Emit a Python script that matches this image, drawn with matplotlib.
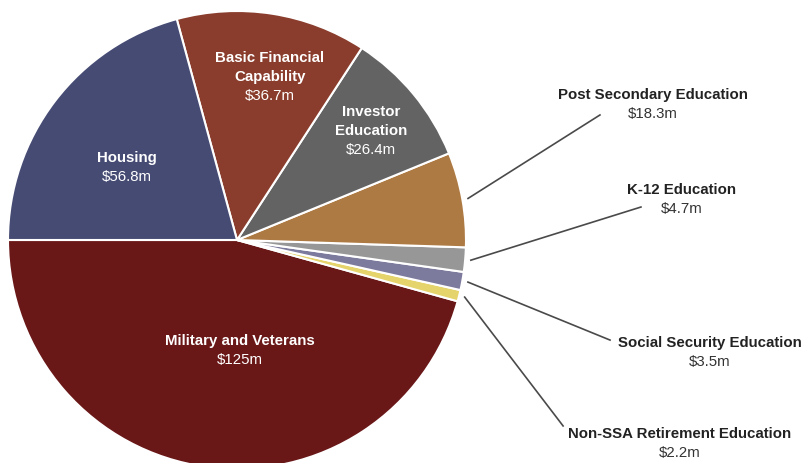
import numpy as np
import matplotlib.pyplot as plt

plt.rcParams['font.family'] = ['Liberation Sans', 'DejaVu Sans']

# funding by program area, in $ millions (drawn counter-clockwise from 9 o'clock)
programs = ['Military and Veterans', 'Non-SSA Retirement Education',
            'Social Security Education', 'K-12 Education',
            'Post Secondary Education', 'Investor Education',
            'Basic Financial Capability', 'Housing']
amounts = [125, 2.2, 3.5, 4.7, 18.3, 26.4, 36.7, 56.8]
amount_labels = ['$125m', '$2.2m', '$3.5m', '$4.7m', '$18.3m', '$26.4m',
                 '$36.7m', '$56.8m']
colors = ['#6a1718', '#e5d36b', '#7c7a9d', '#979797', '#ae7a43', '#636363',
          '#8a3d2c', '#464b74']

fig = plt.figure(figsize=(8.06, 4.63), dpi=100)
ax = fig.add_axes([0, 0, 1, 1])
ax.set_aspect('equal')
ax.axis('off')

wedges, _ = ax.pie(amounts, colors=colors, startangle=180, radius=1.0,
                   wedgeprops=dict(edgecolor='white', linewidth=1.5))

R = 229.0  # pixels per unit radius
ax.set_xlim(-237 / R, (806 - 237) / R)
ax.set_ylim(-(463 - 240) / R, 240 / R)
step = 19 / R  # line height
fs = 10.8

# big slices: label inside (name lines, top line position)
inside = {
    'Military and Veterans': (['Military and Veterans'], (0.013, -0.442)),
    'Housing': (['Housing'], (-0.48, 0.358)),
    'Basic Financial Capability': (['Basic Financial', 'Capability'], (0.144, 0.795)),
    'Investor Education': (['Investor', 'Education'], (0.585, 0.559)),
}
# small slices: label outside with a leader line (text position, line end)
outside = {
    'Post Secondary Education': ((1.817, 0.635), (1.585, 0.546)),
    'K-12 Education': ((1.943, 0.218), (1.764, 0.144)),
    'Social Security Education': ((2.066, -0.450), (1.629, -0.437)),
    'Non-SSA Retirement Education': ((1.934, -0.847), (1.424, -0.812)),
}

for w, name, val in zip(wedges, programs, amount_labels):
    if name in inside:
        lines, (x, y) = inside[name]
        for i, ln in enumerate(lines):
            ax.text(x, y - i * step, ln, ha='center', va='center',
                    color='white', fontsize=fs, fontweight='bold')
        ax.text(x, y - len(lines) * step, val, ha='center', va='center',
                color='white', fontsize=fs)
    else:
        (tx, ty), (lx, ly) = outside[name]
        mid = np.deg2rad((w.theta1 + w.theta2) / 2)
        ax.plot([1.025 * np.cos(mid), lx], [1.025 * np.sin(mid), ly],
                color='#4a4a4a', linewidth=1.2)
        ax.text(tx, ty, name, ha='center', va='center', color='#222222',
                fontsize=fs, fontweight='bold')
        ax.text(tx, ty - step, val, ha='center', va='center',
                color='#333333', fontsize=fs)

fig.savefig('out.png', dpi=100)
